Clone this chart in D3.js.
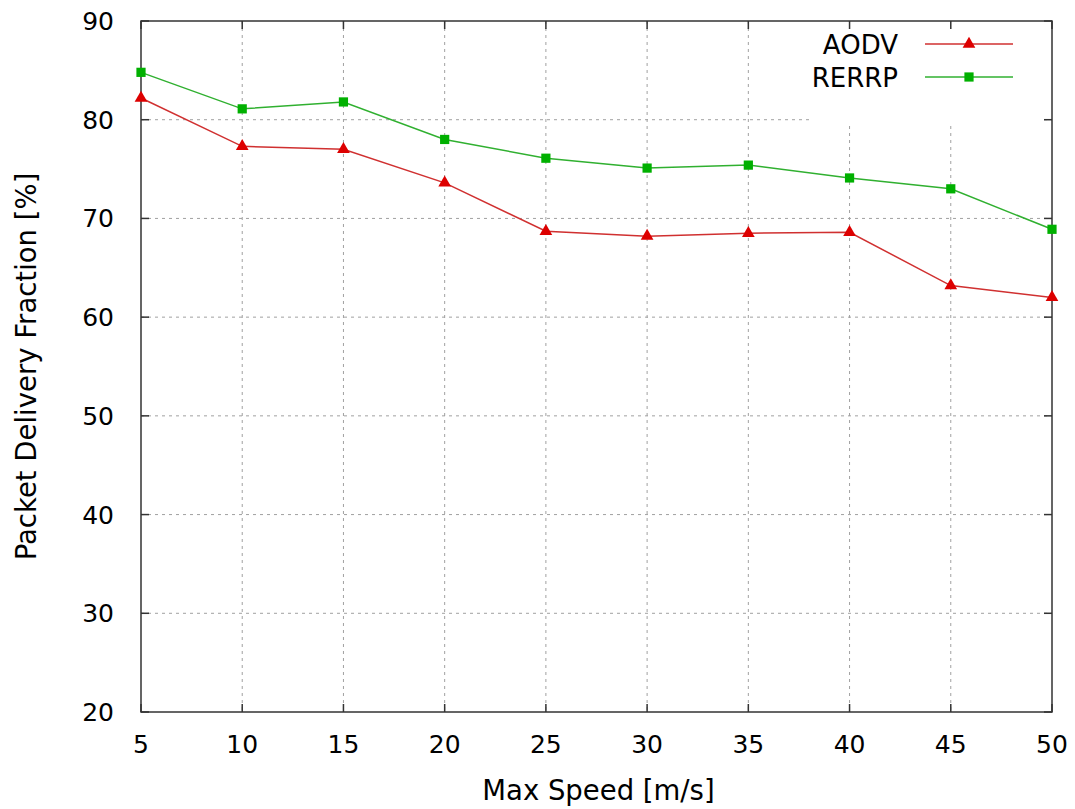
<!DOCTYPE html>
<html>
<head>
<meta charset="utf-8">
<script src="https://cdn.jsdelivr.net/npm/d3@7"></script>
<style>
  body { margin: 0; background: #fff; }
  text { font-family: "DejaVu Sans", sans-serif; fill: #000; }
</style>
</head>
<body>
<div id="chart"></div>
<script>
// Data
const speeds = [5, 10, 15, 20, 25, 30, 35, 40, 45, 50];
const aodv = [82.2, 77.3, 77.0, 73.6, 68.7, 68.2, 68.5, 68.6, 63.2, 62.0];
const rerrp = [84.8, 81.1, 81.8, 78.0, 76.1, 75.1, 75.4, 74.1, 73.0, 68.9];
const yTicks = [20, 30, 40, 50, 60, 70, 80, 90];
const seriesNames = ["AODV", "RERRP"];

const W = 1075, H = 809;
const margin = { top: 21, right: 23, bottom: 97, left: 141 };
const width = W - margin.left - margin.right,
    height = H - margin.top - margin.bottom;

const svg = d3.select("#chart").append("svg")
    .attr("width", W).attr("height", H);
const g = svg.append("g")
    .attr("transform", "translate(" + margin.left + "," + margin.top + ")");

const x = d3.scaleLinear().domain([5, 50]).range([0, width]);
const y = d3.scaleLinear().domain([20, 90]).range([height, 0]);

// Grid (dotted)
const grid = g.append("g").attr("stroke", "#a0a0a0").attr("stroke-width", 1)
    .attr("stroke-dasharray", "3,4");
grid.selectAll(".vg").data(speeds.slice(1, -1)).enter().append("line")
    .attr("x1", d => x(d)).attr("x2", d => x(d))
    .attr("y1", 0).attr("y2", height);
grid.selectAll(".hg").data(yTicks.slice(1, -1)).enter().append("line")
    .attr("x1", 0).attr("x2", width)
    .attr("y1", d => y(d)).attr("y2", d => y(d));

// Legend background hides grid
g.append("rect").attr("x", 670).attr("y", 1).attr("width", width - 680).attr("height", 103)
    .attr("fill", "#fff");

// Axes with inward ticks, mirrored
const tickLen = 8;
const axisColor = "#333";
const axes = g.append("g").attr("stroke", axisColor).attr("stroke-width", 1.5);
axes.append("rect").attr("x", 0).attr("y", 0).attr("width", width).attr("height", height)
    .attr("fill", "none");
speeds.forEach(s => {
    axes.append("line").attr("x1", x(s)).attr("x2", x(s)).attr("y1", height).attr("y2", height - tickLen);
    axes.append("line").attr("x1", x(s)).attr("x2", x(s)).attr("y1", 0).attr("y2", tickLen);
});
yTicks.forEach(t => {
    axes.append("line").attr("x1", 0).attr("x2", tickLen).attr("y1", y(t)).attr("y2", y(t));
    axes.append("line").attr("x1", width - tickLen).attr("x2", width).attr("y1", y(t)).attr("y2", y(t));
});

// Tick labels
g.selectAll(".xl").data(speeds).enter().append("text")
    .attr("x", d => x(d)).attr("y", height + 41)
    .attr("text-anchor", "middle").style("font-size", "25px")
    .text(d => d);
g.selectAll(".yl").data(yTicks).enter().append("text")
    .attr("x", -27).attr("y", d => y(d) + 9)
    .attr("text-anchor", "end").style("font-size", "25px")
    .text(d => d);

// Axis titles
g.append("text").attr("x", width / 2 + 2).attr("y", height + 88)
    .attr("text-anchor", "middle").style("font-size", "27.5px")
    .text("Max Speed [m/s]");
svg.append("text")
    .attr("transform", "translate(36," + (margin.top + height / 2) + ") rotate(-90)")
    .attr("text-anchor", "middle").style("font-size", "27.5px")
    .text("Packet Delivery Fraction [%]");

// Series
const colors = ["#dd0000", "#00b000"];
const lineColors = ["#d03030", "#30b030"];
const line = d3.line().x((d, i) => x(speeds[i])).y(d => y(d));
const tri = d3.symbol().type(d3.symbolTriangle).size(70);
const sq = d3.symbol().type(d3.symbolSquare).size(85);

[aodv, rerrp].forEach((vals, k) => {
    g.append("path").datum(vals).attr("d", line)
        .attr("fill", "none").attr("stroke", lineColors[k]).attr("stroke-width", 1.5);
    g.selectAll(".m" + k).data(vals).enter().append("path")
        .attr("d", k === 0 ? tri : sq)
        .attr("transform", (d, i) => "translate(" + x(speeds[i]) + "," + y(d) + ")")
        .attr("fill", colors[k]);
});

// Legend
seriesNames.forEach((name, k) => {
    const ly = 23 + k * 33;
    g.append("text").attr("x", 757).attr("y", ly + 10)
        .attr("text-anchor", "end").style("font-size", "26px").text(name);
    g.append("line").attr("x1", 784).attr("x2", 872).attr("y1", ly).attr("y2", ly)
        .attr("stroke", lineColors[k]).attr("stroke-width", 1.5);
    g.append("path").attr("d", k === 0 ? tri : sq)
        .attr("transform", "translate(828," + ly + ")")
        .attr("fill", colors[k]);
});
</script>
</body>
</html>
